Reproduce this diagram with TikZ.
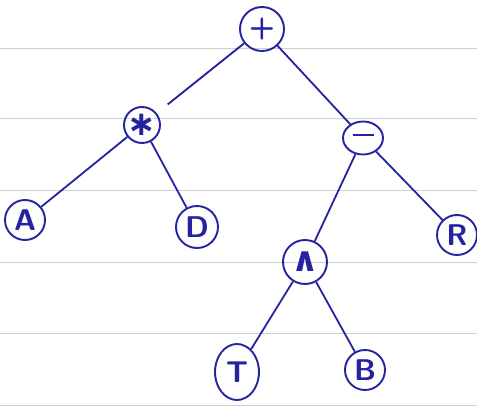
\documentclass[tikz,border=0pt]{standalone}
\usepackage{fontspec}
\newfontfamily\symfont{DejaVu Sans}
\usetikzlibrary{shapes.geometric}
\definecolor{ink}{HTML}{2424A0}
\definecolor{rule}{HTML}{CDD0D0}
\begin{document}
\begin{tikzpicture}[x=1pt,y=-1pt,
  vert/.style={circle,draw=ink,line width=1.9pt,text=ink,minimum size=40pt,inner sep=0pt,font=\sffamily\bfseries\fontsize{30}{30}\selectfont},
  evert/.style={ellipse,draw=ink,line width=1.9pt,text=ink,inner sep=0pt,font=\sffamily\bfseries\fontsize{30}{30}\selectfont},
  symtext/.style={font=\symfont\bfseries\fontsize{34}{34}\selectfont},
  edge/.style={draw=ink,line width=1.8pt},
  ruling/.style={draw=rule,line width=0.8pt}]
\useasboundingbox (0,0) rectangle (477,409);
\fill[white] (0,0) rectangle (477,409);
\foreach \y in {48,118,190,262,333,405} \draw[ruling] (0,\y) -- (477,\y);
\node[vert,minimum size=44pt] (plus) at (262,29) {+};
\node[vert,symtext,minimum size=36pt] (mul) at (142,125) {∗};
\node[evert,minimum width=40pt,minimum height=33pt] (minus) at (363,138) {\rule[0.45ex]{0.7em}{2pt}};
\node[vert,minimum size=40pt] (A) at (25,220) {A};
\node[vert,minimum size=42pt] (D) at (197,227) {D};
\node[vert,minimum size=40pt] (R) at (457,235) {R};
\node[vert,symtext,minimum size=44pt] (pow) at (305,262) {∧};
\node[evert,minimum width=44pt,minimum height=56pt] (T) at (237,372) {T};
\node[vert,minimum size=40pt] (B) at (365,370) {B};
\draw[edge,shorten >=14pt] (plus) -- (mul);
\draw[edge] (mul) -- (A);
\draw[edge] (mul) -- (D);
\draw[edge] (plus) -- (minus);
\draw[edge] (minus) -- (pow);
\draw[edge] (minus) -- (R);
\draw[edge] (pow) -- (T);
\draw[edge] (pow) -- (B);
\end{tikzpicture}
\end{document}
